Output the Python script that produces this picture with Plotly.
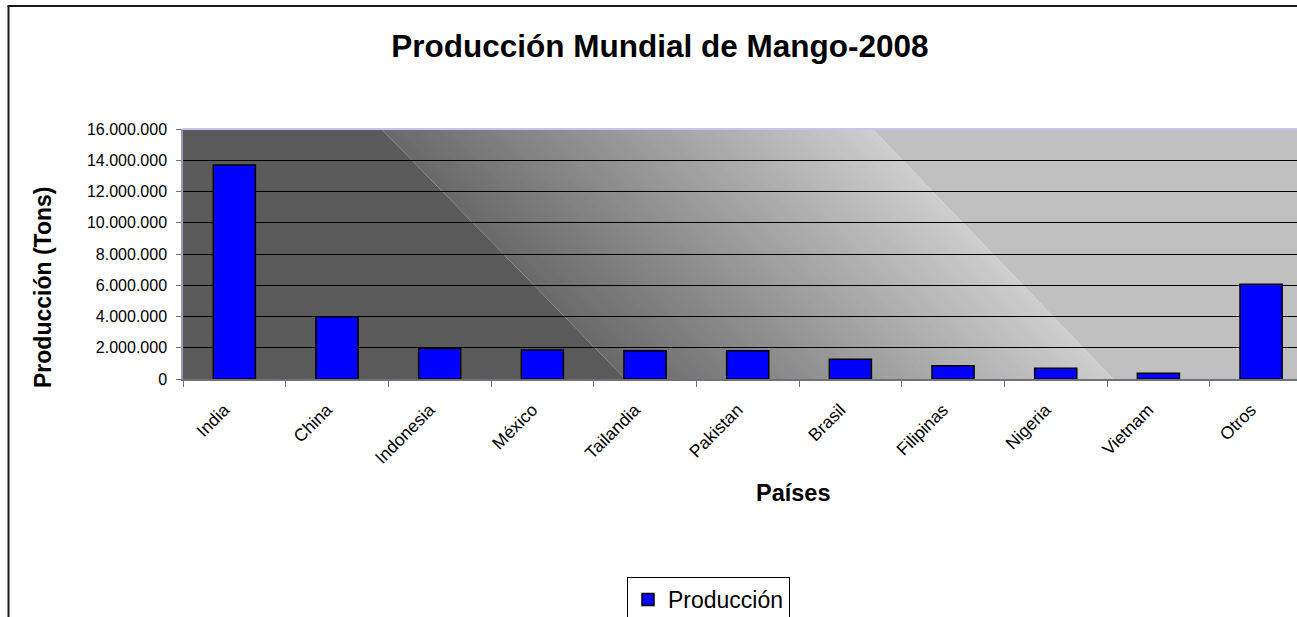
import plotly.graph_objects as go

# data (tons, 2008)
paises = ["India", "China", "Indonesia", "México", "Tailandia", "Pakistan",
          "Brasil", "Filipinas", "Nigeria", "Vietnam", "Otros"]
produccion = [13700000, 3990000, 1960000, 1860000, 1810000, 1810000,
              1260000, 850000, 690000, 370000, 6060000]
y_ticks = [0, 2000000, 4000000, 6000000, 8000000, 10000000,
           12000000, 14000000, 16000000]

FONT = "Arial, Liberation Sans, sans-serif"

# plot area in pixels (used to place decorations outside the axes)
W, H = 1297, 617
L, R, T, B = 183, 1297, 129, 379


def px_x(px):
    return (px - L) / (R - L)


def px_y(py):
    return (B - py) / (B - T)


fig = go.Figure()

fig.add_trace(
    go.Bar(
        x=paises,
        y=produccion,
        name="Producción",
        width=0.41,
        marker=dict(color="#0000ff", line=dict(color="black", width=1.5)),
    )
)

# Excel-like diagonal gradient background of the plot area
shapes = []
dark, light = 90, 192
a0, b0 = 0.178, 0.397   # dark edge (top x, bottom x) in x-domain units
a1, b1 = 0.619, 0.835   # light edge
shapes.append(dict(type="path", xref="x domain", yref="y domain", layer="below",
                   path=f"M0,0 L0,1 L{a0},1 L{b0},0 Z",
                   fillcolor=f"rgb({dark},{dark},{dark})", line=dict(width=0)))
shapes.append(dict(type="path", xref="x domain", yref="y domain", layer="below",
                   path=f"M{a1},1 L1,1 L1,0 L{b1},0 Z",
                   fillcolor=f"rgb({light},{light},{light})", line=dict(width=0)))
n = 60
for i in range(n):
    t0 = i / n
    t1 = min(1.0, (i + 1) / n + 0.004)
    g = int(106 + (206 - 106) * (i + 0.5) / n)
    xt0, xt1 = a0 + t0 * (a1 - a0), a0 + t1 * (a1 - a0)
    xb0, xb1 = b0 + t0 * (b1 - b0), b0 + t1 * (b1 - b0)
    shapes.append(dict(type="path", xref="x domain", yref="y domain", layer="below",
                       path=f"M{xb0},0 L{xt0},1 L{xt1},1 L{xb1},0 Z",
                       fillcolor=f"rgb({g},{g},{g})", line=dict(width=0)))

# lavender top edge of plot area
shapes.append(dict(type="line", xref="x domain", yref="y domain", x0=0, x1=1, y0=1, y1=1,
                   line=dict(color="#c4c4ec", width=2)))
# chart border (left and top)
shapes.append(dict(type="line", xref="paper", yref="paper",
                   x0=px_x(8.5), x1=px_x(8.5), y0=px_y(H + 5), y1=px_y(6),
                   line=dict(color="#1a1a1a", width=2)))
shapes.append(dict(type="line", xref="paper", yref="paper",
                   x0=px_x(7.5), x1=px_x(W + 5), y0=px_y(6), y1=px_y(6),
                   line=dict(color="#1a1a1a", width=2)))

annotations = [
    dict(text="<b>Producción (Tons)</b>", xref="paper", yref="paper",
         x=px_x(28), y=px_y(288), textangle=-90, showarrow=False,
         font=dict(family=FONT, size=23, color="black")),
    dict(text="<b>Países</b>", xref="paper", yref="paper",
         x=px_x(793), y=px_y(508), showarrow=False,
         font=dict(family=FONT, size=23.5, color="black")),
]

fig.update_layout(
    width=W, height=H,
    autosize=False,
    margin=dict(l=L, r=W - R, t=T, b=H - B, pad=0, autoexpand=False),
    paper_bgcolor="white",
    plot_bgcolor="rgba(0,0,0,0)",
    separators=",.",
    title=dict(text="<b>Producción Mundial de Mango-2008</b>",
               xref="container", yref="container",
               x=660 / W, y=1 - 46 / H, xanchor="center", yanchor="middle",
               font=dict(family=FONT, size=31.5, color="black")),
    shapes=shapes,
    annotations=annotations,
    showlegend=True,
    legend=dict(xref="container", yref="container",
                x=627 / W, y=1 - 577 / H, xanchor="left", yanchor="top",
                bordercolor="black", borderwidth=1, bgcolor="white",
                itemwidth=30,
                font=dict(family=FONT, size=23, color="black")),
    bargap=0.59,
)

fig.update_xaxes(
    range=[-0.5, 10.35],
    tickangle=-45,
    tickson="boundaries",
    ticks="outside", ticklen=6, tickcolor="#707080",
    showline=True, linecolor="#707080", linewidth=1.5,
    showgrid=False,
    ticklabelstandoff=12,
    ticklabelshift=-10,
    tickfont=dict(family=FONT, size=17.5, color="black"),
)

fig.update_yaxes(
    range=[0, 16000000],
    tickvals=y_ticks,
    tickformat=",d",
    ticks="outside", ticklen=5, tickcolor="#707080",
    showline=True, linecolor="#9a9ab4", linewidth=1.5,
    showgrid=True, gridcolor="black", gridwidth=1,
    zeroline=False,
    ticklabelstandoff=6,
    tickfont=dict(family=FONT, size=16, color="black"),
)

fig.write_html("out.html", post_script="document.body.style.margin='0';",
               config={"displayModeBar": False})
